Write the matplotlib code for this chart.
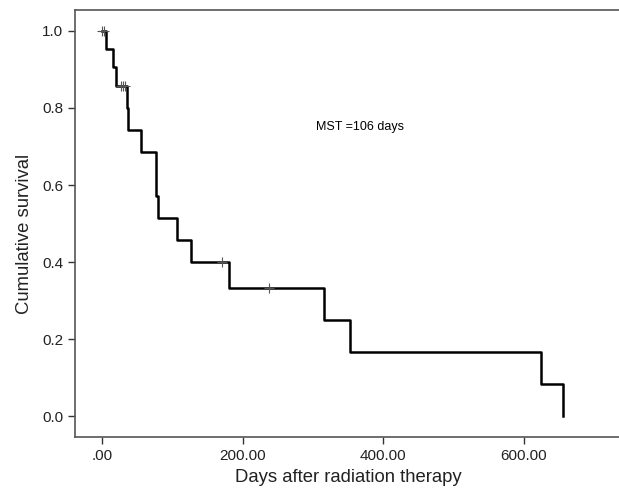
import matplotlib
matplotlib.use("Agg")
import matplotlib.pyplot as plt

plt.rcParams['font.family'] = ['Liberation Sans', 'DejaVu Sans']

# ── data ──────────────────────────────────────────────
event_days = [0, 5, 15, 19, 35, 36, 55, 76, 77, 79, 106, 126, 181, 315, 353, 624, 656]
survival = [1.0, 0.952, 0.905, 0.857, 0.800, 0.743, 0.686, 0.629, 0.571, 0.514,
            0.457, 0.400, 0.333, 0.250, 0.167, 0.083, 0.0]

censor_days = [0, 2, 26, 30, 33, 170, 237]
censor_surv = [1.0, 1.0, 0.857, 0.857, 0.857, 0.400, 0.333]

x_ticks = [0, 200, 400, 600]
x_labels = [".00", "200.00", "400.00", "600.00"]
y_ticks = [0.0, 0.2, 0.4, 0.6, 0.8, 1.0]

# ── plot ──────────────────────────────────────────────
fig = plt.figure(figsize=(6.19, 4.88), dpi=100)
ax = fig.add_axes([0.121, 0.104, 0.885, 0.8755])

ax.step(event_days, survival, where='post', color='black', linewidth=1.8)
ax.plot(censor_days, censor_surv, '+', color='#555555', markersize=7, markeredgewidth=0.8)

ax.text(367, 0.751, "MST =106 days", fontsize=9, ha='center', va='center')

ax.set_xlim(-39, 741)
ax.set_ylim(-0.054, 1.054)
ax.set_xticks(x_ticks)
ax.set_xticklabels(x_labels)
ax.set_yticks(y_ticks)
ax.set_yticklabels([f"{v:.1f}" for v in y_ticks])
ax.tick_params(direction='out', length=5, width=1, labelsize=11, color='#333333',
               labelcolor='#222222')

for s in ax.spines.values():
    s.set_color('#555555')
    s.set_linewidth(1.2)

ax.set_xlabel("Days after radiation therapy", fontsize=13.3, color='#222222')
ax.set_ylabel("Cumulative survival", fontsize=13.3, color='#222222')
ax.yaxis.set_label_coords(-0.076, 0.476)

fig.savefig("out.png", dpi=100)
